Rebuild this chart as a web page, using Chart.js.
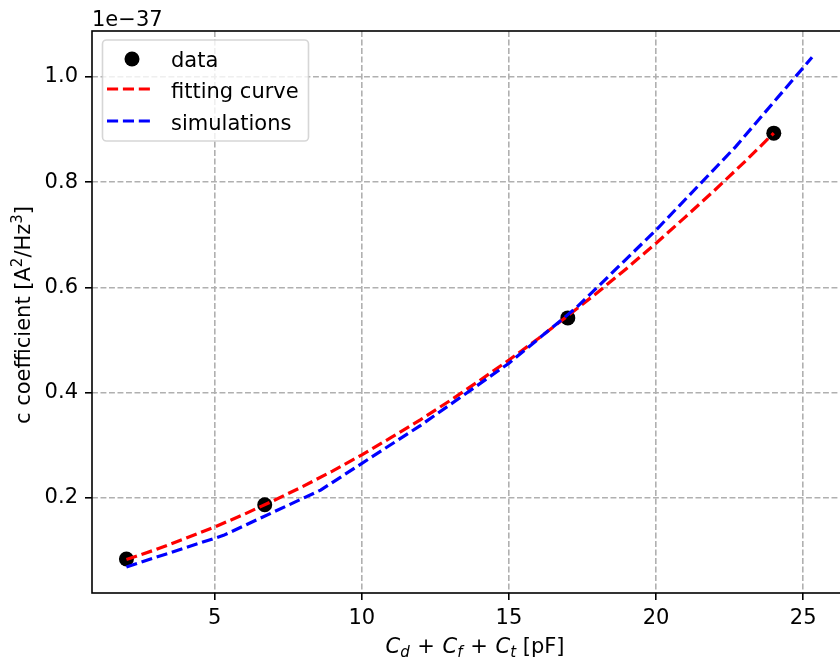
<!DOCTYPE html>
<html><head><meta charset="utf-8">
<script src="https://cdn.jsdelivr.net/npm/chart.js@4/dist/chart.umd.min.js"></script>
<style>html,body{margin:0;padding:0;background:#fff;overflow:hidden;width:840px;height:662px}</style>
</head><body>
<canvas id="c" width="880" height="662" style="display:block;width:880px;height:662px"></canvas>
<script>
// measured data (units of 1e-37 A^2/Hz^3)
const dataX = [2.0, 6.7, 17.0, 24.0];
const dataY = [0.084, 0.187, 0.542, 0.893];

const fitX = [2, 3, 4, 5, 6, 7, 8, 9, 10, 11, 12, 13, 14, 15, 16, 17, 18, 19, 20, 21, 22, 23, 24];
const fitY = [0.083, 0.102, 0.123, 0.145, 0.169, 0.195, 0.222, 0.251, 0.282, 0.315, 0.349, 0.385,
              0.423, 0.462, 0.503, 0.546, 0.590, 0.636, 0.684, 0.734, 0.785, 0.838, 0.893];

const simX = [2, 5.3, 8.6, 12, 15, 17.3, 20, 22.7, 25.3];
const simY = [0.069, 0.129, 0.215, 0.338, 0.456, 0.562, 0.709, 0.867, 1.037];

const xTicks = [5, 10, 15, 20, 25];
const yTicks = [0.2, 0.4, 0.6, 0.8, 1.0];

const seriesNames = ['data', 'fitting curve', 'simulations'];
const FONT = '"DejaVu Sans", "Liberation Sans", sans-serif';
const FS = 21;

const pts = (xs, ys) => xs.map((x, i) => ({x: x, y: ys[i]}));

function drawRich(ctx, segs, cx, y) {
  let total = 0;
  segs.forEach(s => { ctx.font = s.font; s.w = ctx.measureText(s.t).width + (s.gap || 0); total += s.w; });
  let x = cx - total / 2;
  ctx.textAlign = 'left';
  ctx.textBaseline = 'alphabetic';
  segs.forEach(s => { ctx.font = s.font; ctx.fillText(s.t, x + (s.pre || 0), y + (s.dy || 0)); x += s.w; });
}

const overlay = {
  id: 'overlay',
  afterDraw(chart) {
    const ctx = chart.ctx;
    const a = chart.chartArea;
    ctx.save();
    // frame (spines)
    ctx.strokeStyle = '#000';
    ctx.lineWidth = 1.6;
    ctx.setLineDash([]);
    ctx.strokeRect(a.left, a.top, a.right - a.left, a.bottom - a.top);

    // offset text
    ctx.fillStyle = '#000';
    ctx.font = FS + 'px ' + FONT;
    ctx.textAlign = 'left';
    ctx.textBaseline = 'alphabetic';
    ctx.fillText('1e\u221237', a.left, 26);

    // x title
    const R = FS + 'px ' + FONT, I = 'italic ' + FS + 'px ' + FONT, IS = 'italic 15px ' + FONT, S = '15px ' + FONT;
    drawRich(ctx, [
      {t: 'C', font: I}, {t: 'd', font: IS, dy: 4}, {t: ' + ', font: R, gap: 2, pre: 1},
      {t: 'C', font: I}, {t: 'f', font: IS, dy: 4}, {t: ' + ', font: R, gap: 2, pre: 1},
      {t: 'C', font: I}, {t: 't', font: IS, dy: 4}, {t: ' [pF]', font: R}
    ], (a.left + a.right) / 2 + 4, 653);

    // y title
    ctx.save();
    ctx.translate(30, (a.top + a.bottom) / 2 + 3);
    ctx.rotate(-Math.PI / 2);
    drawRich(ctx, [
      {t: 'c coefficient [A', font: R}, {t: '2', font: S, dy: -8},
      {t: '/Hz', font: R}, {t: '3', font: S, dy: -8}, {t: ']', font: R}
    ], 0, 0);
    ctx.restore();

    // legend
    const lx = 102.5, ly = 40, lw = 206, lh = 101, r = 4;
    ctx.beginPath();
    ctx.moveTo(lx + r, ly);
    ctx.arcTo(lx + lw, ly, lx + lw, ly + lh, r);
    ctx.arcTo(lx + lw, ly + lh, lx, ly + lh, r);
    ctx.arcTo(lx, ly + lh, lx, ly, r);
    ctx.arcTo(lx, ly, lx + lw, ly, r);
    ctx.closePath();
    ctx.fillStyle = 'rgba(255,255,255,0.8)';
    ctx.fill();
    ctx.strokeStyle = 'rgba(204,204,204,0.8)';
    ctx.lineWidth = 1.6;
    ctx.stroke();

    const ds = chart.data.datasets;
    const rowY = [59, 89, 121];
    const baseY = [66.5, 98, 129.5];
    ds.forEach((d, i) => {
      if (i === 0) {
        ctx.beginPath();
        ctx.arc(132, rowY[i], d.pointRadius, 0, Math.PI * 2);
        ctx.fillStyle = d.backgroundColor;
        ctx.fill();
      } else {
        ctx.beginPath();
        ctx.setLineDash(d.borderDash);
        ctx.strokeStyle = d.borderColor;
        ctx.lineWidth = d.borderWidth;
        ctx.moveTo(107, rowY[i]);
        ctx.lineTo(153, rowY[i]);
        ctx.stroke();
        ctx.setLineDash([]);
      }
      ctx.fillStyle = '#000';
      ctx.font = FS + 'px ' + FONT;
      ctx.textAlign = 'left';
      ctx.textBaseline = 'alphabetic';
      ctx.fillText(d.label, 171, baseY[i]);
    });
    ctx.restore();
  }
};

const gridCommon = {
  color: '#b0b0b0', lineWidth: 1.6, tickLength: 7, tickColor: '#000', tickWidth: 1.6
};

new Chart(document.getElementById('c'), {
  type: 'scatter',
  data: {
    datasets: [
      {label: seriesNames[0], data: pts(dataX, dataY), showLine: false,
       pointRadius: 7.5, backgroundColor: '#000', borderColor: '#000', borderWidth: 0, order: 3},
      {label: seriesNames[1], data: pts(fitX, fitY), showLine: true, pointRadius: 0,
       borderColor: '#ff0000', backgroundColor: '#ff0000', borderWidth: 3.2, borderDash: [11.1, 4.8],
       tension: 0, fill: false, order: 2},
      {label: seriesNames[2], data: pts(simX, simY), showLine: true, pointRadius: 0,
       borderColor: '#0000ff', backgroundColor: '#0000ff', borderWidth: 3.2, borderDash: [11.1, 4.8],
       tension: 0, fill: false, order: 1}
    ]
  },
  options: {
    responsive: false, animation: false, devicePixelRatio: 1,
    layout: {padding: {left: 0, top: 31, right: 30, bottom: 0}},
    plugins: {legend: {display: false}, tooltip: {enabled: false}},
    scales: {
      x: {
        type: 'linear', min: 0.83, max: 26.59,
        afterFit(s) { s.height = 69; },
        afterBuildTicks(s) { s.ticks = xTicks.map(v => ({value: v})); },
        ticks: {color: '#000', font: {family: FONT, size: FS}, padding: 6,
                maxRotation: 0, autoSkip: false, callback: v => String(v)},
        grid: gridCommon,
        border: {display: false, dash: [5.9, 2.6]}
      },
      y: {
        type: 'linear', min: 0.0195, max: 1.087,
        afterFit(s) { s.width = 92; },
        afterBuildTicks(s) { s.ticks = yTicks.map(v => ({value: v})); },
        ticks: {color: '#000', font: {family: FONT, size: FS}, padding: 7,
                autoSkip: false, callback: v => Number(v).toFixed(1)},
        grid: gridCommon,
        border: {display: false, dash: [5.9, 2.6]}
      }
    }
  },
  plugins: [overlay]
});
</script>
</body></html>
